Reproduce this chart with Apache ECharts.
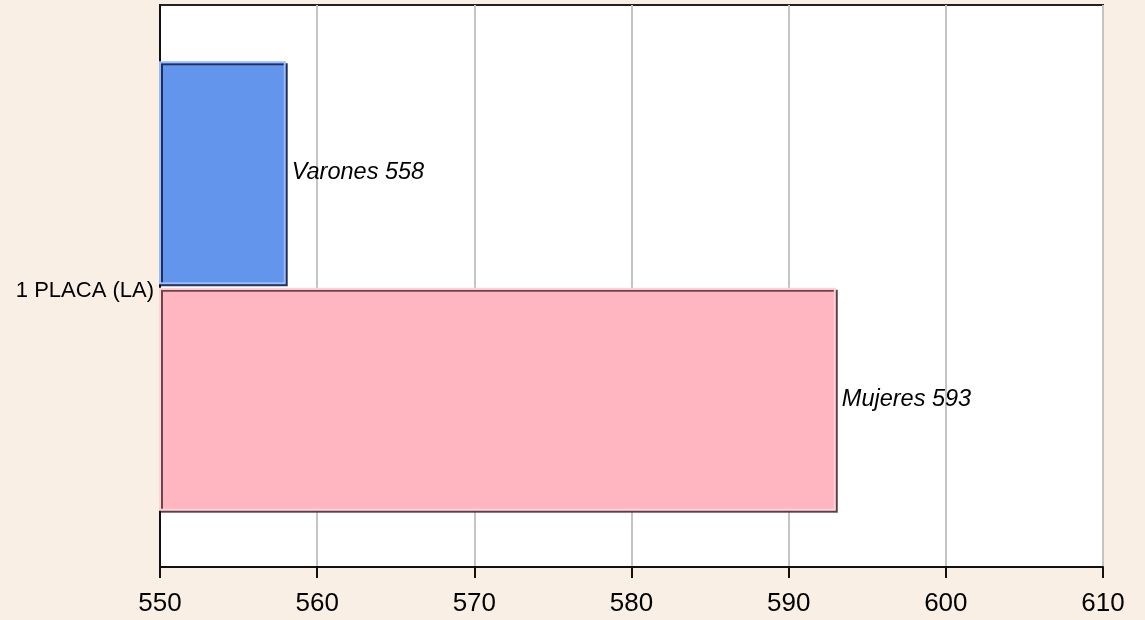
<!DOCTYPE html>
<html><head><meta charset="utf-8">
<script src="https://cdn.jsdelivr.net/npm/echarts@6/dist/echarts.min.js"></script>
<style>html,body{margin:0;padding:0;background:#FAEFE5;}#c{width:1145px;height:620px;}</style>
</head><body><div id="c"></div>
<script>
const categories = ['1 PLACA (LA)'];
const seriesNames = ['Varones', 'Mujeres'];
const varones = [558];
const mujeres = [593];
const xTicks = [550, 560, 570, 580, 590, 600, 610];

const chart = echarts.init(document.getElementById('c'));
const font = 'Liberation Sans, Arial, sans-serif';
function mk(name, data, color, light, dark) {
  return {
    name: name, type: 'bar', data: data,
    barCategoryGap: '20%', barGap: '1.5%',
    itemStyle: { color: color, borderColor: light, borderWidth: 2,
      shadowColor: dark, shadowOffsetX: 2, shadowOffsetY: 2, shadowBlur: 0 },
    label: { show: true, position: 'right', distance: 6, color: '#000',
      fontStyle: 'italic', fontFamily: font, fontSize: 23.5, padding: [4, 0, 0, 0],
      formatter: p => p.seriesName + ' ' + p.value }
  };
}
chart.setOption({
  backgroundColor: '#FAEFE5',
  animation: false,
  grid: { left: 160, right: 42, top: 5, bottom: 53, show: true,
    backgroundColor: '#fff', borderColor: '#222', borderWidth: 2 },
  xAxis: { type: 'value', min: xTicks[0], max: xTicks[xTicks.length-1], interval: 10,
    axisLine: { show: true, onZero: false, lineStyle: { color: '#111', width: 2 } },
    axisTick: { show: true, inside: false, length: 11, lineStyle: { color: '#111', width: 2 } },
    axisLabel: { color: '#000', fontFamily: font, fontSize: 26, margin: 24 },
    splitLine: { show: true, lineStyle: { color: '#c4c4c4', width: 2 } } },
  yAxis: { type: 'category', data: categories, inverse: true,
    axisLine: { show: true, lineStyle: { color: '#111', width: 2 } },
    axisTick: { show: false },
    axisLabel: { color: '#000', fontFamily: font, fontSize: 22, margin: 6,
      formatter: v => '{c|' + v + '}',
      rich: { c: { fontFamily: font, fontSize: 22, color: '#000', padding: [10, 0, 0, 0] } } } },
  series: [
    mk(seriesNames[0], varones, '#6495ED', '#9dbcf6', 'rgba(20,35,80,0.9)'),
    mk(seriesNames[1], mujeres, '#FFB6C1', '#ffd3da', 'rgba(80,50,55,0.85)')
  ]
});
</script></body></html>
